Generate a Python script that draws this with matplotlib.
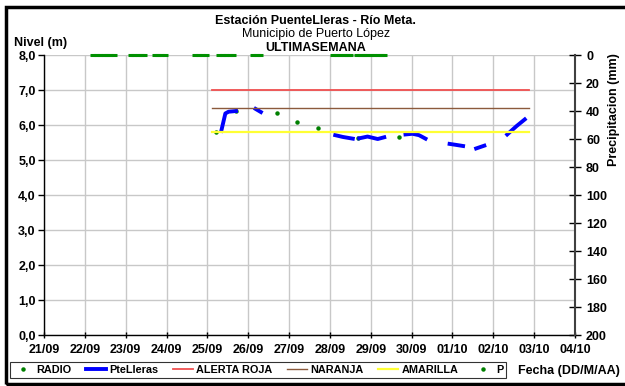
import numpy as np
import matplotlib.pyplot as plt
from matplotlib.patches import Rectangle
from matplotlib.lines import Line2D

plt.rcParams['font.family'] = ['Liberation Sans', 'DejaVu Sans']

# x values are days counted from 21/09 00:00
fechas = ["21/09", "22/09", "23/09", "24/09", "25/09", "26/09", "27/09",
          "28/09", "29/09", "30/09", "01/10", "02/10", "03/10", "04/10"]

# RADIO readings (level, m)
radio_x = [4.21, 4.71, 5.71, 6.20, 6.71, 7.68, 8.68]
radio_y = [5.80, 6.40, 6.34, 6.09, 5.91, 5.63, 5.66]

# PteLleras sensor level (m), NaN marks gaps in the record
pte_x = [4.34, 4.44, 4.52, 4.70, np.nan,
         5.18, 5.31, np.nan,
         7.13, 7.31, 7.56, np.nan,
         7.72, 7.92, 8.17, 8.33, np.nan,
         8.85, 9.02, 9.18, 9.34, np.nan,
         9.93, 10.10, 10.26, np.nan,
         10.58, 10.78, np.nan,
         11.34, 11.57, 11.77]
pte_y = [5.83, 6.33, 6.38, 6.40, np.nan,
         6.46, 6.37, np.nan,
         5.71, 5.66, 5.61, np.nan,
         5.62, 5.67, 5.60, 5.65, np.nan,
         5.73, 5.75, 5.71, 5.61, np.nan,
         5.46, 5.43, 5.40, np.nan,
         5.33, 5.41, np.nan,
         5.73, 5.97, 6.16]

# alert thresholds (m) and the period they are drawn over
alerta_x = [4.11, 11.88]
roja = 7.0
naranja = 6.5
amarilla = 5.8

# precipitation (mm), hours from 21/09 00:00
p_horas = [29, 31, 33, 35, 37, 39, 41,
           51, 53, 55, 57, 59,
           65, 67, 69, 71,
           89, 91, 93, 95,
           103, 105, 107, 109, 111,
           123, 125, 127,
           170, 172, 174, 176, 178, 180,
           184, 186, 188, 190, 192, 194, 196, 198, 200]
p_mm = [0.0] * len(p_horas)

fig = plt.figure(figsize=(6.25, 3.86), dpi=100)
ax = fig.add_axes([0.0704, 0.1321, 0.8496, 0.7254])

ax.plot(radio_x, radio_y, linestyle="none", marker="o", markersize=2.2,
        color="#008000", label="RADIO")
ax.plot(pte_x, pte_y, color="#0000ff", linewidth=2.8, label="PteLleras")
ax.plot(alerta_x, [roja, roja], color="#f05050", linewidth=1.3, label="ALERTA ROJA")
ax.plot(alerta_x, [naranja, naranja], color="#8b5a3c", linewidth=1.0, label="NARANJA")
ax.plot(alerta_x, [amarilla, amarilla], color="#ffff33", linewidth=1.6, label="AMARILLA")

ax.set_xlim(0, 13)
ax.set_ylim(0, 8)
ax.set_xticks(range(len(fechas)))
ax.set_xticklabels(fechas)
ax.set_yticks(range(9))
ax.set_yticklabels([f"{v},0" for v in range(9)])
ax.grid(True, color="#c8c8c8", linewidth=1.0)
ax.set_axisbelow(True)
for side in ["top", "right"]:
    ax.spines[side].set_visible(False)
ax.spines["left"].set_linewidth(1.0)
ax.spines["bottom"].set_linewidth(1.0)
ax.tick_params(axis="both", labelsize=9, length=4, width=1, pad=2)
ax.tick_params(axis="x", direction="inout", length=5, pad=4)
for lab in ax.get_xticklabels() + ax.get_yticklabels():
    lab.set_fontweight("bold")

ax2 = ax.twinx()
ax2.plot(np.array(p_horas) / 24, p_mm, linestyle="none", marker="_",
         markersize=4.5, markeredgewidth=2.2, color="#009000", clip_on=False)
ax2.set_ylim(200, 0)
ax2.set_yticks(range(0, 201, 20))
ax2.set_xlim(0, 13)
for side in ["top", "left", "bottom"]:
    ax2.spines[side].set_visible(False)
ax2.spines["right"].set_color("#404040")
ax2.spines["right"].set_linewidth(1.5)
ax2.tick_params(axis="y", direction="inout", length=8, width=1, labelsize=9,
                colors="black", pad=4)
for lab in ax2.get_yticklabels():
    lab.set_fontweight("bold")

fig.text(0.505, 0.937, "Estación PuenteLleras - Río Meta.", ha="center",
         fontsize=9, fontweight="bold")
fig.text(0.505, 0.903, "Municipio de Puerto López", ha="center", fontsize=9)
fig.text(0.505, 0.869, "ULTIMASEMANA", ha="center", fontsize=9, fontweight="bold")
fig.text(0.022, 0.88, "Nivel (m)", fontsize=9, fontweight="bold")
fig.text(0.982, 0.715, "Precipitacion (mm)", rotation=90, ha="center", va="center",
         fontsize=9, fontweight="bold")
fig.text(0.828, 0.030, "Fecha (DD/M/AA)", fontsize=9, fontweight="bold")

h1, l1 = ax.get_legend_handles_labels()
p_handle = Line2D([], [], linestyle="none", marker="o", markersize=2.2, color="#008000")
leg = fig.legend(h1 + [p_handle], l1 + ["P"], loc="center", bbox_to_anchor=(0.413, 0.041),
                 ncol=6, fontsize=7.8, frameon=True, fancybox=False,
                 handlelength=1.9, handletextpad=0.3, columnspacing=1.3,
                 borderpad=0.25, borderaxespad=0.0)
leg.get_frame().set_edgecolor("black")
leg.get_frame().set_linewidth(0.8)
for t in leg.get_texts():
    t.set_fontweight("bold")

fig.patches.append(Rectangle((0.0096, 0.005), 1.1, 0.977, transform=fig.transFigure,
                             fill=False, edgecolor="black", linewidth=2.5))

fig.savefig("out.png", dpi=100)
